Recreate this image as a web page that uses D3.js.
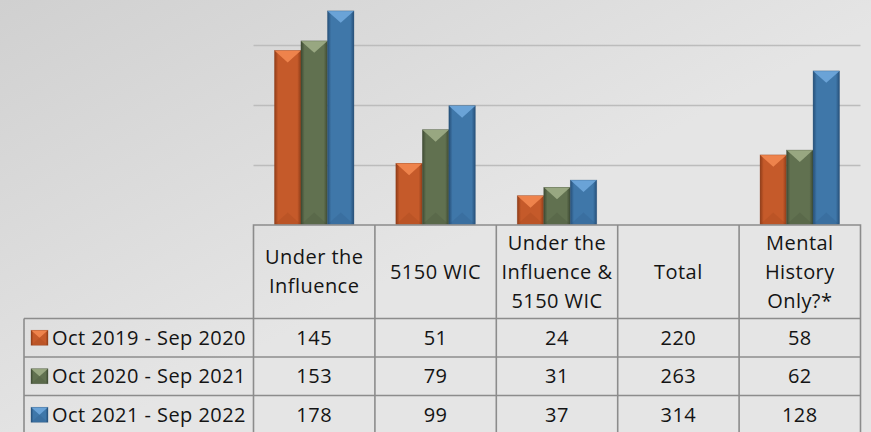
<!DOCTYPE html>
<html>
<head>
<meta charset="utf-8">
<script src="https://cdn.jsdelivr.net/npm/d3@7"></script>
<style>
  body { margin: 0; background: #e5e5e5; }
  svg { display: block; }
  text { font-family: "Open Sans", sans-serif; fill: #141414; }
</style>
</head>
<body>
<svg width="871" height="432"></svg>
<script>
const svg = d3.select('svg');
const width = +svg.attr('width');
const height = +svg.attr('height');

// data
const categories = ['Under the Influence', '5150 WIC', 'Under the Influence & 5150 WIC', 'Total', 'Mental History Only?*'];
const headerLines = [['Under the', 'Influence'], ['5150 WIC'], ['Under the', 'Influence &', '5150 WIC'], ['Total'], ['Mental', 'History', 'Only?*']];
const seriesNames = ['Oct 2019 - Sep 2020', 'Oct 2020 - Sep 2021', 'Oct 2021 - Sep 2022'];
const values2020 = [145, 51, 24, 220, 58];
const values2021 = [153, 79, 31, 263, 62];
const values2022 = [178, 99, 37, 314, 128];
const gridTicks = [50, 100, 150];
const yMax = 200;

const seriesValues = [values2020, values2021, values2022];
const seriesColors = [
  {base: '#c55a2a', dark: '#8f3c18', light: '#f48b52'},
  {base: '#617150', dark: '#3e4a33', light: '#a2b089'},
  {base: '#3f77a9', dark: '#264f78', light: '#72aadf'}
];

const plot = {left: 253.5, right: 860.5, base: 224.5};
const table = {top: 225, headBottom: 318.5, rowH: 38.5, legendLeft: 24};

const defs = svg.append('defs');
const bg = defs.append('linearGradient').attr('id', 'bg')
  .attr('gradientUnits', 'userSpaceOnUse')
  .attr('x1', 0).attr('y1', 0).attr('x2', 200).attr('y2', 380);
bg.append('stop').attr('offset', 0).attr('stop-color', '#d0d0d0');
bg.append('stop').attr('offset', 1).attr('stop-color', '#e5e5e5');

seriesColors.forEach((c, i) => {
  const g = defs.append('linearGradient').attr('id', 'bar' + i);
  g.append('stop').attr('offset', 0).attr('stop-color', c.dark);
  g.append('stop').attr('offset', 0.14).attr('stop-color', c.base);
  g.append('stop').attr('offset', 0.86).attr('stop-color', c.base);
  g.append('stop').attr('offset', 1).attr('stop-color', c.dark);
});

svg.append('rect').attr('width', width).attr('height', height).attr('fill', 'url(#bg)');

const x = d3.scaleBand().domain(categories).range([plot.left, plot.right]);
const xInner = d3.scaleBand().domain(seriesNames).range([0, x.bandwidth()]).paddingOuter(0.79);
const y = d3.scaleLinear().domain([0, yMax]).range([plot.base, plot.base - yMax * 1.2]);

// gridlines
svg.append('g').selectAll('line').data(gridTicks).join('line')
  .attr('x1', plot.left).attr('x2', plot.right)
  .attr('y1', d => Math.round(y(d)) + 0.5).attr('y2', d => Math.round(y(d)) + 0.5)
  .attr('stroke', '#bcbcbc').attr('stroke-width', 1.4);

// bars with a bevelled look
const bevel = (sel, w, h, i) => {
  sel.append('rect').attr('width', w).attr('height', h).attr('fill', `url(#bar${i})`);
  const t = Math.min(w * 0.45, h / 2);
  sel.append('path')
    .attr('d', `M0,0L${w},0L${w / 2},${t}Z`)
    .attr('fill', seriesColors[i].light).attr('opacity', 0.85);
  sel.append('path')
    .attr('d', `M0,${h}L${w},${h}L${w / 2},${h - t}Z`)
    .attr('fill', seriesColors[i].dark).attr('opacity', 0.18);
  sel.append('rect').attr('width', w).attr('height', h)
    .attr('fill', 'none').attr('stroke', seriesColors[i].dark).attr('stroke-opacity', 0.5).attr('stroke-width', 0.6);
};

const barData = [];
seriesValues.forEach((vals, i) => vals.forEach((v, j) => barData.push({cat: categories[j], series: seriesNames[i], i, value: v})));

svg.append('g').selectAll('g').data(barData.filter(d => d.value <= yMax)).join('g')
  .attr('transform', d => `translate(${x(d.cat) + xInner(d.series)},${y(d.value)})`)
  .each(function(d) {
    bevel(d3.select(this), xInner.bandwidth(), y(0) - y(d.value), d.i);
  });

// data table
const grid = svg.append('g').attr('fill', 'none').attr('stroke', '#8c8c8c').attr('stroke-width', 1.6);
const rowsBottom = table.headBottom + table.rowH * seriesNames.length;
grid.append('path').attr('d',
  `M${plot.left},${rowsBottom}V${table.top}H${plot.right}V${rowsBottom}`);
categories.slice(1).forEach(c => {
  grid.append('path').attr('d', `M${x(c)},${table.top}V${rowsBottom}`);
});
grid.append('path').attr('d', `M${table.legendLeft},${table.headBottom}H${plot.right}`);
grid.append('path').attr('d', `M${table.legendLeft},${table.headBottom}V${rowsBottom}`);
seriesNames.slice(1).forEach((s, i) => {
  const yy = table.headBottom + table.rowH * (i + 1);
  grid.append('path').attr('d', `M${table.legendLeft},${yy}H${plot.right}`);
});

const fs = 20;
const ls = 0.45;
// header labels
const headMid = (table.top + table.headBottom) / 2;
categories.forEach((c, j) => {
  const lines = headerLines[j];
  const t = svg.append('text')
    .attr('text-anchor', 'middle')
    .attr('font-size', fs)
    .attr('letter-spacing', ls);
  lines.forEach((l, k) => {
    t.append('tspan')
      .attr('x', x(c) + x.bandwidth() / 2)
      .attr('y', headMid + (k - (lines.length - 1) / 2) * 29)
      .attr('dy', '0.35em')
      .text(l);
  });
});

// rows
seriesNames.forEach((s, i) => {
  const rowMid = table.headBottom + table.rowH * (i + 0.5);
  const key = svg.append('g').attr('transform', `translate(${table.legendLeft + 7},${rowMid - 7.5})`);
  bevel(key, 17, 15, i);
  svg.append('text')
    .attr('x', table.legendLeft + 28).attr('y', rowMid).attr('dy', '0.35em')
    .attr('font-size', fs).attr('letter-spacing', ls)
    .text(s);
  seriesValues[i].forEach((v, j) => {
    svg.append('text')
      .attr('x', x(categories[j]) + x.bandwidth() / 2).attr('y', rowMid).attr('dy', '0.35em')
      .attr('text-anchor', 'middle')
      .attr('font-size', fs).attr('letter-spacing', ls)
      .text(v);
  });
});
</script>
</body>
</html>
